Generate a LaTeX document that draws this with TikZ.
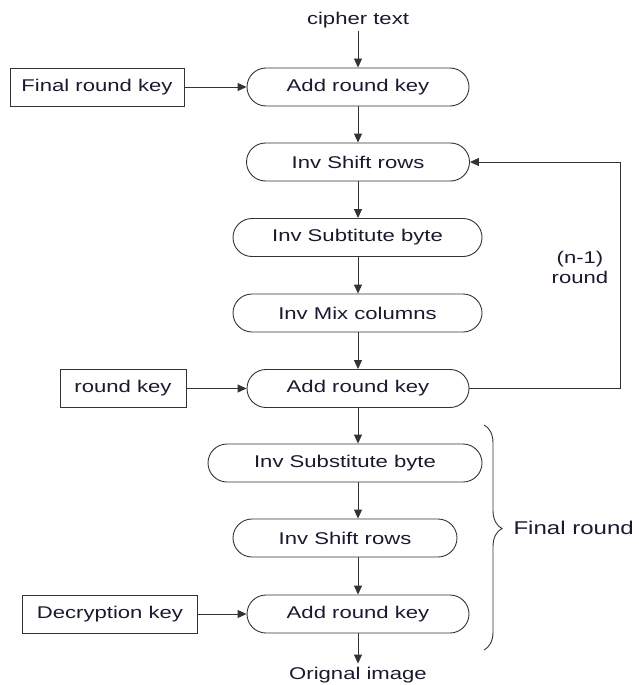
\documentclass[tikz,border=0pt]{standalone}
\usepackage{fontspec}
\setmainfont{Liberation Sans}[FakeStretch=1.3]
\usetikzlibrary{arrows.meta,decorations.pathreplacing}
\definecolor{lin}{HTML}{333333}
\definecolor{txt}{HTML}{1A1A2E}
\begin{document}
\begin{tikzpicture}[x=1pt,y=-1pt,
  every node/.style={font=\fontsize{17}{20}\selectfont, text=txt},
  proc/.style={draw=lin, line width=0.9pt, rounded corners=19pt, minimum height=38pt, inner sep=0pt},
  keybox/.style={draw=lin, line width=0.9pt, minimum height=38pt, inner sep=0pt},
  arr/.style={draw=lin, line width=0.9pt, -{Triangle[length=9pt,width=8pt]}},
  lnk/.style={draw=lin, line width=0.9pt},
]
\useasboundingbox (0,0) rectangle (639,685);
\node (ct) at (358,20) {cipher text};
\node[proc, minimum width=222pt] (ark1) at (358,87) {Add round key};
\node[keybox, minimum width=174pt] (frk) at (97,87) {Final round key};
\node[proc, minimum width=223pt] (isr1) at (358,162) {Inv Shift rows};
\node[proc, minimum width=249pt] (isb1) at (357.5,237.5) {Inv Subtitute byte};
\node[proc, minimum width=249pt] (imc) at (357.5,313) {Inv Mix columns};
\node[proc, minimum width=222pt] (ark2) at (358,388.5) {Add round key};
\node[keybox, minimum width=126pt] (rk) at (123,388.5) {round key};
\node[proc, minimum width=274pt] (isb2) at (345,463) {Inv Substitute byte};
\node[proc, minimum width=224pt] (isr2) at (345,538) {Inv Shift rows};
\node[proc, minimum width=222pt] (ark3) at (358,614) {Add round key};
\node[keybox, minimum width=175pt] (dk) at (110,614) {Decryption key};
\node (oi) at (358,675) {Orignal image};
\node[align=center] (nr) at (580,267) {(n-1)\\round};
\node[anchor=west, font=\fontsize{18.5}{22}\selectfont] (fr) at (510,528) {Final round};
\coordinate (lp1) at (620,388.5);
\coordinate (lp2) at (620,162);
\coordinate (bt) at (484,425);
\coordinate (bb) at (484,650);

\draw[arr] (ct) -- (ark1);
\draw[arr] (frk) -- (ark1);
\draw[arr] (ark1) -- (isr1);
\draw[arr] (isr1.south) -- (isr1.south |- isb1.north);
\draw[arr] (isb1.south -| isr1.south) -- (isr1.south |- imc.north);
\draw[arr] (imc.south -| isr1.south) -- (ark2.north);
\draw[arr] (rk) -- (ark2);
\draw[lnk] (ark2.east) -- (lp1) -- (lp2);
\draw[arr] (lp2) -- (isr1.east);
\draw[arr] (ark2.south) -- (ark2.south |- isb2.north);
\draw[arr] (ark2.south |- isb2.south) -- (ark2.south |- isr2.north);
\draw[arr] (ark2.south |- isr2.south) -- (ark3.north);
\draw[arr] (dk) -- (ark3);
\draw[arr] (ark3.south) -- (ark3.south |- oi.north);
\draw[lnk, decorate, decoration={brace, amplitude=18pt, aspect=0.46}] (bt) -- (bb);
\end{tikzpicture}
\end{document}
